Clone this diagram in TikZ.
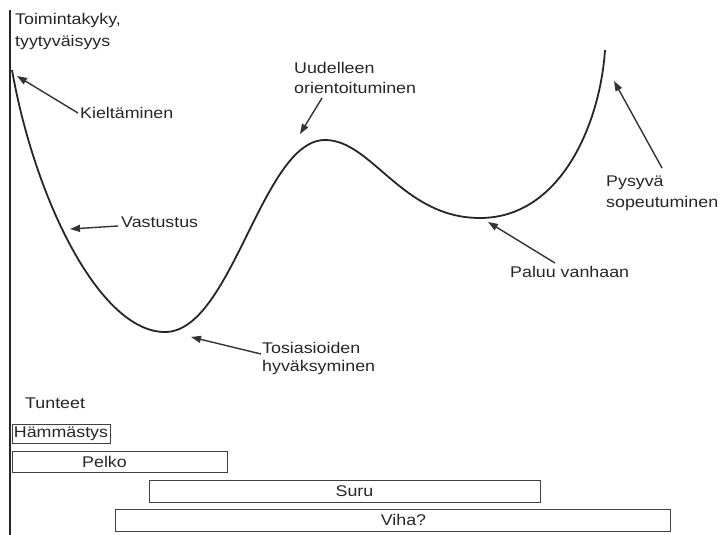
\documentclass[tikz,border=0pt]{standalone}
\usepackage{fontspec}
\setmainfont{Liberation Sans}
\newfontfamily\widesans[FakeStretch=1.15]{Liberation Sans}
\usetikzlibrary{arrows.meta}
\begin{document}
\begin{tikzpicture}[x=1pt,y=-1pt,
  lbl/.style={font=\widesans\fontsize{15.5}{20}\selectfont, text=black!85, inner sep=0pt, align=left},
  pointer/.style={draw=black!80, line width=1.4pt, -{Triangle[length=10pt,width=7pt]}},
  feel/.style={draw=black!75, line width=1pt, fill=white, font=\widesans\fontsize{15.5}{18}\selectfont, text=black!85, inner sep=0pt, minimum height=19pt}]
\useasboundingbox (0,0) rectangle (721,535);
\fill[white] (0,0) rectangle (721,535);
% axis
\coordinate (axtop) at (10,10);
\coordinate (axbot) at (10,535);
\draw[line width=1.6pt, black!85] (axtop) -- (axbot);
\node[lbl, anchor=west] (ylab1) at (15,20) {Toimintakyky,};
\node[lbl, anchor=west] (ylab2) at (15,42) {tyytyväisyys};
% change curve
\coordinate (c0) at (12,70);
\coordinate (cmin) at (165,332);
\coordinate (cmax) at (325,140);
\coordinate (cdip) at (480,218);
\coordinate (cend) at (605,50);
\draw[line width=1.8pt, black!85]
  (c0) .. controls (35,200) and (100,332) .. (cmin)
       .. controls (232,332) and (262,140) .. (cmax)
       .. controls (372,140) and (402,218) .. (cdip)
       .. controls (560,218) and (600,125) .. (cend);
% stage labels
\node[lbl, anchor=west] (kielt) at (80,113) {Kieltäminen};
\node[lbl, anchor=west] (vast) at (121,222) {Vastustus};
\node[lbl, anchor=west] (uud1) at (294,68) {Uudelleen};
\node[lbl, anchor=west] (uud2) at (294,88) {orientoituminen};
\node[lbl, anchor=west] (tosi1) at (262,348) {Tosiasioiden};
\node[lbl, anchor=west] (tosi2) at (262,367) {hyväksyminen};
\node[lbl, anchor=west] (paluu) at (510,272) {Paluu vanhaan};
\node[lbl, anchor=west] (pys1) at (606,183) {Pysyvä};
\node[lbl, anchor=west] (pys2) at (606,203) {sopeutuminen};
% pointers to the curve
\coordinate (skielt) at (78,113);  \coordinate (tkielt) at (17,76);
\coordinate (svast) at (118,226);  \coordinate (tvast) at (70,229);
\coordinate (suud) at (322,98);    \coordinate (tuud) at (300,134);
\coordinate (stosi) at (261,354);  \coordinate (ttosi) at (191,337);
\coordinate (spaluu) at (555,263); \coordinate (tpaluu) at (488,222);
\coordinate (spys) at (662,168);   \coordinate (tpys) at (614,81);
\draw[pointer] (skielt) -- (tkielt);
\draw[pointer] (svast) -- (tvast);
\draw[pointer] (suud) -- (tuud);
\draw[pointer] (stosi) -- (ttosi);
\draw[pointer] (spaluu) -- (tpaluu);
\draw[pointer] (spys) -- (tpys);
% feelings
\node[lbl, anchor=west] (tunt) at (25,403) {Tunteet};
\node[feel, minimum width=98pt] (ham) at (61,433.5) {Hämmästys};
\node[feel, minimum width=215pt, minimum height=21pt] (pelko) at (119.5,461.5) {\hspace*{-30pt}Pelko};
\node[feel, minimum width=391pt, minimum height=22pt] (suru) at (344.5,491) {\hspace*{20pt}Suru};
\node[feel, minimum width=555pt, minimum height=22pt] (viha) at (392.5,520) {\hspace*{22pt}Viha?};
\end{tikzpicture}
\end{document}
